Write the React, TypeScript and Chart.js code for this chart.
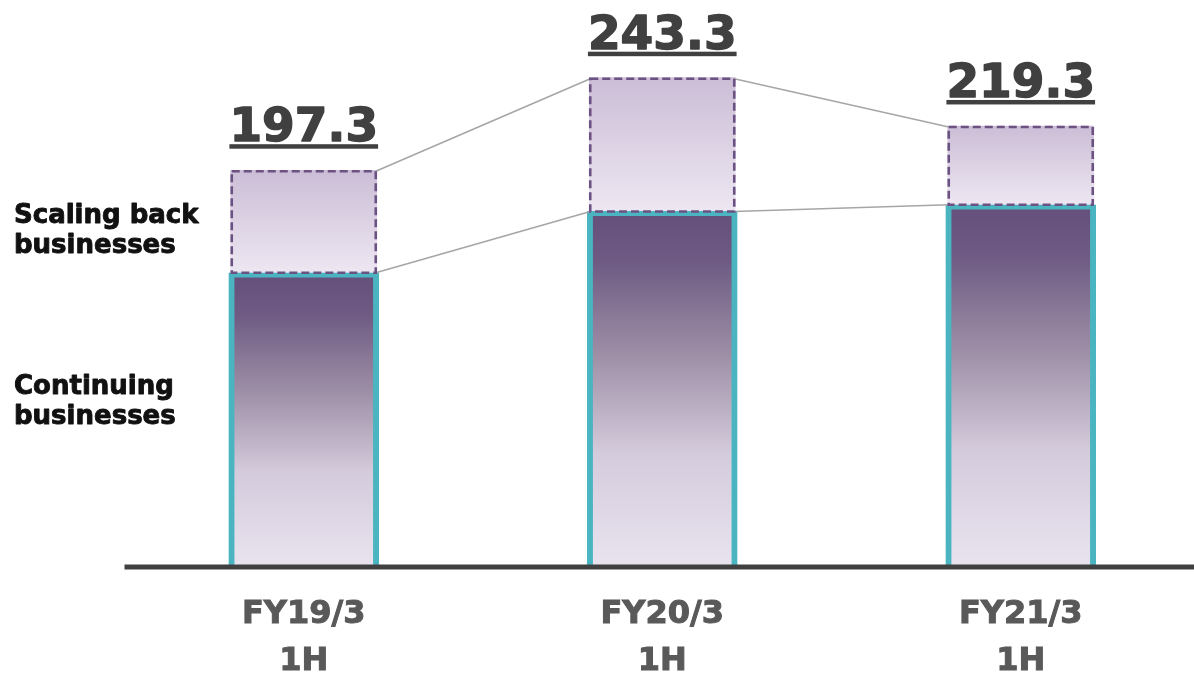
import React, { useEffect, useRef } from "react";
import { Chart, registerables } from "chart.js";

Chart.register(...registerables);

// Half-year revenue split by business type
const periods: string[][] = [
  ["FY19/3", "1H"],
  ["FY20/3", "1H"],
  ["FY21/3", "1H"],
];
const continuing: number[] = [146.3, 176.8, 180.1];
const scalingBack: number[] = [51.0, 66.5, 39.2];
const totals: number[] = [197.3, 243.3, 219.3];
const seriesLabels: string[][] = [
  ["Scaling back", "businesses"],
  ["Continuing", "businesses"],
];

const FONT = "'DejaVu Sans', Verdana, sans-serif";

// draws filled text with a thin outline in the same colour, for a heavier weight
function heavyText(ctx: CanvasRenderingContext2D, text: string, x: number, y: number, color: string, stroke: number) {
  ctx.fillStyle = color;
  ctx.strokeStyle = color;
  ctx.lineWidth = stroke;
  ctx.lineJoin = "round";
  ctx.fillText(text, x, y);
  ctx.strokeText(text, x, y);
}

const overlayPlugin = {
  id: "overlay",
  afterDatasetsDraw(chart: any) {
    const { ctx, chartArea } = chart;
    const metaTop = chart.getDatasetMeta(1);
    const tops = metaTop.data.map((el: any) => el.getProps(["x", "y", "base", "width"], true));

    ctx.save();

    // connector lines between neighbouring bars
    ctx.strokeStyle = "#a6a6a6";
    ctx.lineWidth = 1.6;
    for (let i = 0; i < tops.length - 1; i++) {
      const a = tops[i];
      const b = tops[i + 1];
      ctx.beginPath();
      ctx.moveTo(a.x + a.width / 2 - 1, a.y + 1);
      ctx.lineTo(b.x - b.width / 2 + 1, b.y + 1);
      ctx.moveTo(a.x + a.width / 2 - 1, a.base);
      ctx.lineTo(b.x - b.width / 2 + 1, b.base);
      ctx.stroke();
    }

    // dashed outline of the scaling-back segment
    ctx.strokeStyle = "#6b5283";
    ctx.lineWidth = 2.6;
    ctx.setLineDash([8, 4]);
    tops.forEach((p: any) => {
      ctx.strokeRect(p.x - p.width / 2 + 1, p.y + 1, p.width - 2, p.base - p.y - 1);
    });
    ctx.setLineDash([]);

    // baseline
    ctx.fillStyle = "#404040";
    ctx.fillRect(chartArea.left, chartArea.bottom - 2.5, chartArea.right - chartArea.left, 5);

    // totals, underlined
    ctx.font = `bold 47px ${FONT}`;
    ctx.textAlign = "center";
    ctx.textBaseline = "alphabetic";
    tops.forEach((p: any, i: number) => {
      const text = totals[i].toFixed(1);
      const by = p.y - 29;
      heavyText(ctx, text, p.x, by, "#404040", 1.4);
      const w = ctx.measureText(text).width;
      ctx.fillRect(p.x - w / 2, by + 3, w, 4.5);
    });

    // series names on the left
    ctx.font = `bold 26px ${FONT}`;
    ctx.textAlign = "left";
    const baselines = [
      [223, 253],
      [394, 424],
    ];
    seriesLabels.forEach((lines, k) => {
      lines.forEach((line, j) => heavyText(ctx, line, 14, baselines[k][j], "#111111", 0.9));
    });

    ctx.restore();
  },
};

function verticalGradient(chart: any, from: number, to: number, stops: [number, string][], fallback: string) {
  const y = chart.scales?.y;
  if (!y) return fallback;
  const top = y.getPixelForValue(from);
  const bottom = y.getPixelForValue(to);
  if (!Number.isFinite(top) || !Number.isFinite(bottom) || top === bottom) return fallback;
  const g = chart.ctx.createLinearGradient(0, top, 0, bottom);
  stops.forEach(([o, c]) => g.addColorStop(o, c));
  return g;
}

export default function App() {
  const canvasRef = useRef<HTMLCanvasElement | null>(null);

  useEffect(() => {
    if (!canvasRef.current) return;

    const lowFill = (c: any) => {
      if (c.type !== "data") return "#8a7a9a";
      return verticalGradient(
        c.chart,
        continuing[c.dataIndex],
        0,
        [
          [0, "#654f7b"],
          [0.14, "#6e5a83"],
          [0.4, "#9d8ea6"],
          [0.68, "#d4cbdc"],
          [1, "#e9e3ef"],
        ],
        "#8a7a9a"
      );
    };

    const topFill = (c: any) => {
      if (c.type !== "data") return "#ddd3e4";
      const i = c.dataIndex;
      return verticalGradient(
        c.chart,
        continuing[i] + scalingBack[i],
        continuing[i],
        [
          [0, "#cbbdd6"],
          [1, "#ede7f2"],
        ],
        "#ddd3e4"
      );
    };

    const chart = new Chart(canvasRef.current, {
      type: "bar",
      data: {
        labels: periods,
        datasets: [
          {
            label: "Continuing businesses",
            data: continuing,
            backgroundColor: lowFill,
            borderColor: "#4ab4c0",
            borderWidth: { top: 5, left: 6, right: 6, bottom: 0 },
            borderSkipped: false,
            barThickness: 150,
            stack: "s",
          },
          {
            label: "Scaling back businesses",
            data: scalingBack,
            backgroundColor: topFill,
            borderWidth: 0,
            barThickness: 146,
            stack: "s",
          },
        ],
      },
      options: {
        animation: false,
        responsive: true,
        maintainAspectRatio: false,
        layout: { padding: { left: 124.5, top: 24, right: 0, bottom: 0 } },
        plugins: {
          legend: { display: false },
          tooltip: { enabled: false },
        },
        scales: {
          x: {
            stacked: true,
            grid: { display: false },
            border: { display: false },
            ticks: {
              color: "#595959",
              padding: 16,
              textStrokeColor: "#595959",
              textStrokeWidth: 1,
              font: { family: FONT, size: 32, weight: "bold", lineHeight: "47px" },
            },
            afterFit: (s: any) => {
              s.height = 106;
            },
          },
          y: {
            stacked: true,
            display: false,
            min: 0,
            max: 270,
          },
        },
      },
      plugins: [overlayPlugin],
    } as any);

    return () => chart.destroy();
  }, []);

  return (
    <div
      style={{
        position: "fixed",
        left: 0,
        top: 0,
        width: 1194,
        height: 673,
        overflow: "hidden",
        background: "#ffffff",
      }}
    >
      <div style={{ position: "relative", width: 1200, height: 673 }}>
        <canvas ref={canvasRef} />
      </div>
    </div>
  );
}
